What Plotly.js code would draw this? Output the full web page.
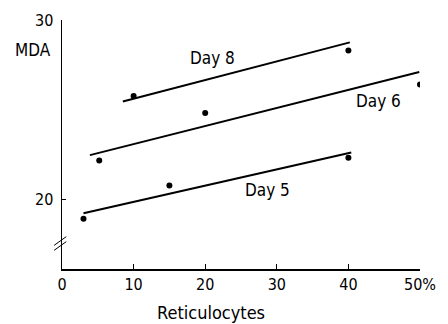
<!DOCTYPE html>
<html><head><meta charset="utf-8">
<script src="https://cdn.plot.ly/plotly-3.0.1.min.js"></script>
<style>body{margin:0;background:#fff}#c{width:448px;height:324px}</style>
</head><body><div id="c"></div>
<script>
// Measured points
const day5X = [3, 15, 40];
const day5Y = [18.9, 20.75, 22.3];
const day6X = [5.2, 20, 50];
const day6Y = [22.15, 24.8, 26.4];
const day8X = [10, 40];
const day8Y = [25.75, 28.3];
// Fitted lines (end points)
const day5LineX = [3, 40.4];
const day5LineY = [19.2, 22.6];
const day6LineX = [3.9, 49.9];
const day6LineY = [22.45, 27.1];
const day8LineX = [8.5, 40.2];
const day8LineY = [25.45, 28.75];
// Labels
const labelText = ["Day 5", "Day 6", "Day 8"];
const labelX = [28.7, 44.2, 21.0];
const labelY = [20.5, 25.5, 27.9];
const xTickVals = [0, 10, 20, 30, 40, 50];
const xTickText = ["0", "10", "20", "30", "40", "50%"];
const yTickVals = [20, 30];
const yTickText = ["20", "30"];

const FONT = "DejaVu Sans Condensed, Liberation Sans Narrow, Liberation Sans, sans-serif";
const lineStyle = {color: "#000", width: 2};
const mk = {color: "#000", size: 6};
const traces = [
  {x: day5LineX, y: day5LineY, mode: "lines", line: lineStyle},
  {x: day6LineX, y: day6LineY, mode: "lines", line: lineStyle},
  {x: day8LineX, y: day8LineY, mode: "lines", line: lineStyle},
  {x: day5X, y: day5Y, mode: "markers", marker: mk},
  {x: day6X, y: day6Y, mode: "markers", marker: mk},
  {x: day8X, y: day8Y, mode: "markers", marker: mk}
];
const annotations = labelText.map((t, i) => ({
  x: labelX[i], y: labelY[i], xref: "x", yref: "y", text: t, showarrow: false,
  font: {family: FONT, size: 17, color: "#000"}
}));
annotations.push({xref: "paper", yref: "paper", x: -0.025, xanchor: "right", y: 0.88,
  yanchor: "middle", text: "MDA",
  showarrow: false, font: {family: FONT, size: 17, color: "#000"}});
annotations.push({xref: "paper", yref: "paper", x: 0.416, xanchor: "center", y: -0.173,
  yanchor: "middle", text: "Reticulocytes",
  showarrow: false, font: {family: FONT, size: 18, color: "#000"}});
const layout = {
  width: 448, height: 324,
  margin: {l: 62, r: 28, t: 20, b: 55},
  paper_bgcolor: "#fff", plot_bgcolor: "#fff",
  showlegend: false,
  font: {family: FONT, size: 16, color: "#000"},
  xaxis: {range: [0, 50], tickvals: xTickVals, ticktext: xTickText,
    showline: true, linecolor: "#000", linewidth: 1.5, ticks: "inside", ticklen: 5,
    tickcolor: "#000", showgrid: false, zeroline: false,
    tickfont: {family: FONT, size: 16}},
  yaxis: {range: [16.09, 30], tickvals: yTickVals, ticktext: yTickText,
    showline: true, linecolor: "#000", linewidth: 1.5, ticks: "inside", ticklen: 4,
    tickcolor: "#000", showgrid: false, zeroline: false, ticklabelstandoff: 4,
    tickfont: {family: FONT, size: 16}},
  annotations: annotations,
  shapes: [
    {type: "line", xref: "paper", yref: "paper", x0: -0.022, y0: 0.075, x1: 0.012, y1: 0.11,
      line: {color: "#000", width: 1}},
    {type: "line", xref: "paper", yref: "paper", x0: -0.022, y0: 0.095, x1: 0.012, y1: 0.13,
      line: {color: "#000", width: 1}}
  ]
};
Plotly.newPlot("c", traces, layout, {displayModeBar: false, staticPlot: true});
</script></body></html>
